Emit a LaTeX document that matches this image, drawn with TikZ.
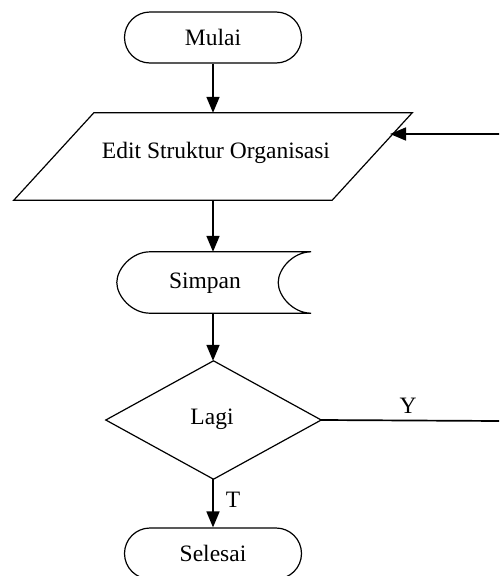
\documentclass[tikz,border=0pt]{standalone}
\usepackage{fontspec}
\setmainfont{Liberation Serif}
\usetikzlibrary{arrows.meta,shapes.misc}
\begin{document}
\begin{tikzpicture}[x=1pt,y=-1pt,
  every node/.style={font=\fontsize{23.5}{27}\selectfont},
  shapeline/.style={draw, line width=1.2pt},
  flow/.style={line width=1.7pt, -{Triangle[length=16pt,width=13pt]}},
  plainflow/.style={line width=1.7pt},
  term/.style={shapeline, rounded rectangle, minimum width=177pt, minimum height=51pt, inner sep=0pt},
  box/.style={rectangle, inner sep=0pt},
  lbl/.style={font=\fontsize{23.5}{27}\selectfont, inner sep=0pt}]
\clip (0,0) rectangle (499,576);
\useasboundingbox (0,0) rectangle (499,576);
% nodes
\node[term] (mulai) at (213,37.5) {Mulai};
\node[box, minimum width=318pt, minimum height=87pt] (edit) at (213,156.5) {};
\draw[line width=1.2pt] ([xshift=40pt]edit.north west) -- ([xshift=40pt]edit.north east)
  -- ([xshift=-40pt]edit.south east) -- ([xshift=-40pt]edit.south west) -- cycle;
\node[lbl] (edittext) at (216,153) {Edit Struktur Organisasi};
\node[box, minimum width=194pt, minimum height=61pt] (simpan) at (214,282.5) {};
\draw[line width=1.2pt] ([xshift=33pt]simpan.north west) -- (simpan.north east)
  .. controls ([xshift=-18pt]simpan.north east) and ([xshift=-33pt,yshift=-17pt]simpan.north east) .. ([xshift=-33pt]simpan.east)
  .. controls ([xshift=-33pt,yshift=17pt]simpan.south east) and ([xshift=-18pt]simpan.south east) .. (simpan.south east)
  -- ([xshift=33pt]simpan.south west)
  .. controls ([xshift=15pt]simpan.south west) and ([yshift=17pt]simpan.south west) .. (simpan.west)
  .. controls ([yshift=-17pt]simpan.north west) and ([xshift=15pt]simpan.north west) .. ([xshift=33pt]simpan.north west);
\node[lbl] (simpantext) at (205,283) {Simpan};
\node[box, minimum width=215pt, minimum height=118pt] (lagi) at (213.5,420) {};
\draw[line width=1.2pt] (lagi.north) -- (lagi.east) -- (lagi.south) -- (lagi.west) -- cycle;
\node[lbl] (lagitext) at (212,419) {Lagi};
\node[term] (selesai) at (213,553.5) {Selesai};
% loop-back end points at the picture edge
\coordinate (yend) at (500,421);
\coordinate (loopstart) at (500,134);
\coordinate (loopend) at (390,134);
% connectors
\draw[flow] (mulai.south) -- (mulai.south |- edit.north);
\draw[flow] (mulai.south |- edit.south) -- (mulai.south |- simpan.north);
\draw[flow] (mulai.south |- simpan.south) -- (mulai.south |- lagi.north);
\draw[flow] (mulai.south |- lagi.south) -- (selesai.north);
\draw[plainflow] (lagi.east) -- (yend);
\draw[flow] (loopstart) -- (loopend);
% branch labels
\node[lbl] (ylbl) at (408,406) {Y};
\node[lbl] (tlbl) at (233,500) {T};
\end{tikzpicture}
\end{document}
